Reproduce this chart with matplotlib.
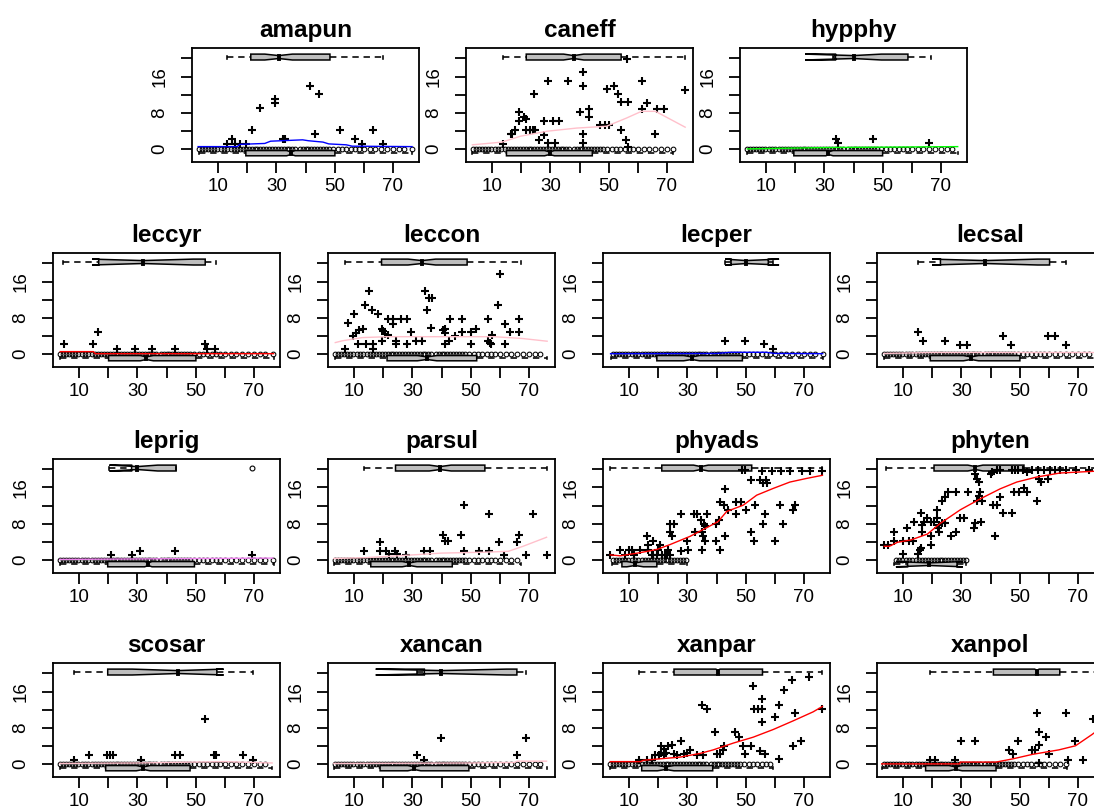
import matplotlib
matplotlib.use("Agg")
import matplotlib.pyplot as plt
from matplotlib.patches import Polygon

plt.rcParams['font.family'] = ['Liberation Sans', 'DejaVu Sans']

# ages of the sampled sites (x of the absence marks at y = 0)
site_ages = [3.5, 4.5, 5.5, 6.5, 7.5, 8.5, 9.5, 11, 12, 13, 14.5, 15.5, 16.5,
             17.5, 18.5, 19.5, 20.5, 21.5, 22.5, 23.5, 24.5, 25.5, 26.5, 27.5,
             28.5, 29.5, 30.5, 31.5, 32.5, 33.5, 34.5, 35.5, 36.5, 38, 39, 40,
             41, 42, 43, 44, 45, 46, 47, 48, 49.5, 51, 52.5, 54, 55.5, 57,
             58.5, 60, 62, 64, 66, 68, 70, 72, 74, 76.5]

# box stats: (whisker lo, q1, median, q3, whisker hi, notch lo, notch hi)
amapun_x = [13.0, 14.9, 15.8, 17.5, 19.5, 21.5, 24.2, 29.4, 29.4, 32.3, 33.0,
            41.4, 43.1, 44.5, 51.8, 57.0, 59.4, 63.3, 66.6]
amapun_y = [1.1, 2.2, 1.1, 1.1, 1.1, 4.1, 9.0, 11.1, 10.2, 2.2, 2.2, 13.9, 3.3,
            12.2, 4.1, 2.2, 1.1, 4.1, 1.1]
amapun_top = (13.0, 21.2, 30.8, 48.4, 66.6, 26.0, 35.5)
amapun_bot = (3.5, 19.5, 35.0, 50.1, 76.6, 33.5, 36.5)
amapun_fit_x = [3.1, 16.5, 17.5, 26, 28, 39, 41, 46, 48, 54, 56, 76.6]
amapun_fit_y = [0.5, 0.5, 1.0, 1.2, 1.7, 2.0, 1.8, 1.5, 1.1, 0.9, 0.6, 0.5]

caneff_x = [13.8, 16.3, 16.8, 17.7, 19.2, 19.1, 20.8, 21.5, 21.7, 23.0, 24.0,
            24.7, 24.2, 26.0, 27.7, 27.7, 29.1, 29.2, 30.8, 33.1, 31.6, 36.1,
            40.0, 41.1, 41.1, 41.1, 41.1, 43.1, 43.1, 47.0, 48.7, 50.2, 49.6,
            51.8, 53.2, 54.4, 56.7, 54.3, 56.1, 56.7, 56.4, 61.6, 61.6, 63.2,
            66.6, 69.2, 66.1, 76.3]
caneff_y = [1.1, 3.2, 3.3, 4.1, 8.1, 6.1, 7.0, 6.6, 4.1, 4.1, 4.1, 4.1, 12.2,
            2.0, 3.1, 6.1, 15.1, 1.3, 6.1, 6.1, 1.3, 15.1, 8.1, 17.1, 13.8, 3.3,
            1.3, 8.9, 7.0, 5.2, 5.2, 5.2, 13.2, 13.8, 12.2, 10.3, 10.3, 4.1,
            2.0, 0.5, 19.8, 15.1, 8.9, 10.2, 8.9, 8.9, 3.3, 13.0]
caneff_top = (13.6, 21.7, 38.0, 54.3, 76.3, 34.5, 41.5)
caneff_bot = (3.2, 14.9, 29.7, 44.4, 72.1, 28.0, 31.4)
caneff_fit_x = [3.2, 13.4, 19.7, 28.8, 39.0, 49.3, 56.1, 61.3, 66.1, 76.3]
caneff_fit_y = [0.9, 1.5, 2.8, 3.9, 4.6, 5.0, 6.8, 8.3, 8.3, 4.8]

hypphy_x = [34.0, 34.8, 46.8, 66.1]
hypphy_y = [2.2, 1.3, 2.2, 1.3]
hypphy_top = (33.0, 33.8, 40.0, 58.7, 66.5, 23.4, 49.6)
hypphy_bot = (3.5, 19.5, 31.4, 50.0, 75.8, 30.5, 33.0)
hypphy_fit_x = [3.5, 31.4, 75.8]
hypphy_fit_y = [0.0, 0.3, 0.5]

leccyr_x = [4.8, 14.8, 16.4, 22.9, 29.2, 35.0, 43.0, 53.3, 53.9, 56.7]
leccyr_y = [2.1, 2.1, 4.9, 1.0, 1.0, 1.0, 1.0, 2.1, 1.0, 1.0]
leccyr_top = (4.6, 16.7, 31.8, 53.3, 57.0, 14.4, 49.2)
leccyr_bot = (3.5, 20.1, 33.0, 50.1, 76.8, 31.0, 35.5)
leccyr_fit_x = [3.5, 14.9, 15.5, 76.8]
leccyr_fit_y = [0.5, 0.5, 0.05, 0.05]

leccon_x = [6.9, 8.0, 10.0, 9.6, 10.6, 11.5, 11.2, 13.1, 13.7, 13.9, 15.1,
            16.1, 16.6, 16.6, 18.2, 19.4, 20.0, 20.6, 21.5, 19.7, 21.5, 23.5,
            23.5, 24.3, 24.3, 26.2, 28.0, 28.2, 29.6, 31.4, 33.3, 34.5, 35.7,
            36.9, 35.1, 36.3, 40.6, 41.2, 41.2, 41.2, 43.0, 42.7, 44.5, 47.0,
            47.0, 50.1, 50.1, 51.9, 56.1, 56.1, 56.7, 57.0, 57.4, 59.4, 60.2,
            61.9, 61.9, 63.5, 66.8, 66.8]
leccon_y = [1.0, 6.9, 8.8, 3.9, 4.7, 5.3, 2.1, 5.6, 10.9, 2.1, 13.8, 9.8, 2.1,
            1.0, 8.9, 5.6, 5.1, 4.4, 4.2, 2.9, 7.7, 7.7, 6.7, 2.9, 2.1, 7.7,
            7.7, 2.1, 4.9, 2.9, 2.9, 13.8, 12.4, 12.4, 9.8, 5.8, 5.3, 5.6, 4.7,
            2.1, 7.7, 2.9, 3.9, 7.7, 4.9, 4.9, 2.1, 5.6, 7.7, 2.9, 2.5, 2.1,
            4.2, 10.9, 17.7, 6.7, 2.1, 4.9, 7.7, 4.9]
leccon_top = (6.9, 19.4, 33.3, 48.8, 67.2, 28.5, 38.0)
leccon_bot = (3.5, 21.3, 35.0, 52.1, 76.3, 31.7, 38.4)
leccon_fit_x = [3.5, 6, 12.7, 21.3, 39.6, 58, 67.8, 76.3]
leccon_fit_y = [2.5, 2.9, 3.6, 3.8, 3.8, 3.8, 3.4, 2.8]

lecper_x = [42.8, 49.9, 56.3, 59.3]
lecper_y = [2.9, 2.9, 2.1, 1.0]
lecper_top = (42.8, 45.0, 50.2, 57.8, 59.3, 43.0, 61.5)
lecper_bot = (3.6, 19.5, 31.5, 48.9, 76.5, 28.7, 34.2)
lecper_fit_x = [3.6, 40, 45, 57, 60, 76.5]
lecper_fit_y = [0.05, 0.1, 0.35, 0.35, 0.1, 0.05]

lecsal_x = [15.0, 16.8, 24.5, 29.4, 31.9, 44.4, 46.9, 59.8, 62.0, 66.0]
lecsal_y = [4.9, 2.9, 2.9, 2.0, 2.0, 4.0, 2.0, 4.0, 4.0, 2.0]
lecsal_top = (15.0, 22.8, 38.1, 60.3, 66.0, 19.9, 56.2)
lecsal_bot = (3.4, 19.3, 33.3, 50.1, 76.5, 30.7, 35.9)
lecsal_fit_x = [3.4, 20, 76.5]
lecsal_fit_y = [0.1, 0.3, 0.3]

leprig_x = [21.1, 28.0, 31.0, 43.0, 69.3]
leprig_y = [1.1, 1.1, 2.0, 2.0, 1.1]
leprig_top = (20.4, 28.0, 30.0, 43.3, 43.3, 20.4, 37.0)
leprig_out = [69.3]
leprig_bot = (3.3, 19.8, 33.8, 49.6, 77.0, 32.5, 35.0)
leprig_fit_x = [3.3, 76.5]
leprig_fit_y = [0.1, 0.4]

parsul_x = [13.2, 18.9, 18.9, 20.8, 22.1, 24.0, 24.6, 27.8, 34.1, 36.0, 40.5,
            41.1, 42.4, 46.8, 47.9, 47.9, 52.8, 56.4, 56.4, 59.9, 61.5, 65.9,
            66.5, 69.1, 71.6, 76.1]
parsul_y = [2.0, 4.0, 2.0, 2.0, 1.3, 2.0, 1.3, 1.1, 2.0, 2.0, 5.4, 4.1, 4.1,
            5.4, 12.1, 2.0, 2.0, 10.2, 2.0, 4.0, 1.1, 4.0, 5.4, 1.1, 10.2, 1.1]
parsul_top = (13.2, 24.2, 39.5, 54.9, 76.1, 35.8, 43.3)
parsul_bot = (3.0, 15.7, 29.0, 43.7, 67.2, 26.5, 31.6)
parsul_fit_x = [3, 14, 25, 40, 55, 63, 68, 76.1]
parsul_fit_y = [0.3, 0.5, 0.9, 1.5, 1.7, 1.9, 3.0, 5.0]

phyads_x = [3.5, 6.9, 10.1, 10.9, 13.8, 16.6, 8.6, 11.5, 17.8, 21.2, 23.1,
            16.1, 16.6, 18.1, 18.1, 19.5, 20.6, 20.0, 22.3, 23.5, 24.1, 24.7,
            24.1, 25.5, 24.1, 27.8, 27.8, 29.8, 30.1, 32.1, 33.2, 32.6, 34.6,
            34.9, 35.5, 34.9, 35.7, 36.1, 36.1, 36.6, 39.8, 41.0, 39.8, 41.2,
            41.2, 42.6, 42.9, 42.9, 44.1, 46.7, 48.3, 46.7, 50.1, 51.7, 51.7,
            53.2, 52.9, 55.0, 55.9, 57.0, 57.5, 56.6, 56.1, 60.1, 61.8, 62.9,
            66.3, 67.1, 48.6, 49.7, 55.8, 58.9, 62.0, 65.2, 69.5, 72.0, 76.4]
phyads_y = [1.1, 2.1, 2.1, 2.1, 2.1, 2.1, 1.1, 1.1, 1.1, 1.1, 1.1, 5.2, 3.2,
            4.1, 1.1, 1.1, 3.2, 2.1, 1.1, 2.1, 6.1, 5.2, 8.0, 8.0, 1.1, 10.1,
            2.0, 4.1, 2.1, 10.1, 10.1, 6.1, 8.9, 6.1, 5.2, 2.1, 8.0, 7.4, 4.1,
            10.1, 8.0, 8.9, 4.1, 2.1, 12.9, 12.1, 15.6, 5.2, 11.1, 12.9, 12.9,
            10.1, 11.1, 6.1, 17.6, 12.1, 4.1, 17.6, 16.9, 17.6, 16.9, 10.1, 8.0,
            4.1, 12.1, 8.0, 11.1, 12.1, 19.8, 19.8, 19.7, 19.7, 19.7, 19.7,
            19.7, 19.7, 19.7]
phyads_top = (3.5, 21.2, 34.6, 52.1, 76.4, 32.1, 37.2)
phyads_bot = (4.1, 7.5, 12.0, 19.5, 29.8, 9.2, 14.9)
phyads_fit_x = [3.5, 6.9, 13.8, 19.5, 24.1, 30.9, 36.6, 40.6, 43.5, 49.2,
                53.8, 59.5, 65.2, 70.9, 76.4]
phyads_fit_y = [1.1, 0.9, 1.6, 2.3, 3.4, 5.2, 7.1, 8.5, 10.7, 12.1, 14.3,
                15.8, 17.2, 18.0, 18.7]

phyten_x = [3.5, 4.9, 6.9, 6.9, 10.1, 11.3, 9.8, 12.0, 13.2, 13.8, 15.1, 15.8,
            16.0, 16.0, 16.3, 17.2, 16.6, 18.1, 19.4, 20.6, 19.4, 19.4, 21.5,
            21.7, 22.3, 22.0, 22.3, 23.4, 24.5, 23.4, 24.5, 25.3, 26.3, 28.0,
            28.3, 29.4, 31.0, 32.2, 34.2, 34.8, 35.3, 35.9, 34.8, 35.3, 35.9,
            36.3, 37.0, 36.7, 40.1, 41.0, 42.2, 41.6, 43.1, 44.4, 47.3, 48.1,
            49.9, 51.5, 52.4, 56.0, 56.7, 57.5, 59.8, 40.5, 42.2, 43.3, 47.3,
            48.4, 49.5, 51.0, 52.4, 54.4, 56.4, 58.3, 60.3, 62.0, 63.8, 66.0,
            69.4, 73.9]
phyten_y = [3.3, 3.3, 6.2, 4.1, 1.3, 7.1, 4.1, 4.1, 4.1, 8.3, 1.3, 2.2, 2.7,
            10.4, 7.6, 8.3, 6.2, 9.2, 8.4, 8.3, 5.3, 3.3, 11.1, 9.2, 7.7, 7.1,
            6.2, 8.1, 8.1, 13.1, 13.9, 15.1, 5.3, 6.2, 15.1, 9.2, 9.2, 15.1,
            7.1, 8.1, 13.1, 14.2, 19.0, 17.9, 17.2, 15.1, 13.1, 8.3, 19.0, 12.2,
            12.2, 5.3, 13.9, 10.3, 10.3, 15.1, 15.1, 15.9, 15.1, 13.1, 17.9,
            17.2, 17.9, 19.5, 19.9, 19.9, 19.9, 19.9, 19.9, 19.9, 19.5, 19.9,
            19.9, 19.9, 19.9, 19.9, 19.9, 19.9, 19.9, 19.9]
phyten_top = (4.1, 20.6, 34.8, 51.5, 76.0, 32.2, 37.4)
phyten_bot = (7.0, 11.5, 19.0, 28.5, 31.7, 7.5, 30.5)
phyten_fit_x = [3.5, 5.2, 8.1, 12.6, 18.3, 22.8, 29.7, 36.5, 43.3, 49.0,
                55.8, 63.8, 76.0]
phyten_fit_y = [3.0, 3.0, 3.9, 4.4, 5.7, 8.1, 11.1, 13.5, 15.7, 17.2, 18.3,
                19.2, 19.6]

scosar_x = [8.1, 13.4, 19.4, 20.5, 21.7, 31.2, 43.0, 44.6, 53.1, 56.4, 57.0,
            66.2, 69.7]
scosar_y = [0.9, 2.0, 2.0, 2.0, 2.0, 0.9, 2.0, 2.0, 10.0, 2.0, 2.0, 2.0, 0.9]
scosar_top = (8.1, 19.8, 43.9, 57.3, 69.7, 28.2, 59.6)
scosar_bot = (3.3, 19.1, 32.0, 48.1, 76.3, 29.6, 34.4)
scosar_fit_x = [3.3, 30, 50, 60, 70, 76.3]
scosar_fit_y = [0.1, 0.2, 0.4, 0.5, 0.3, 0.2]

xancan_x = [31.6, 34.1, 39.9, 65.9, 69.1]
xancan_y = [2.0, 0.9, 5.8, 2.0, 5.8]
xancan_top = (31.6, 34.1, 39.9, 65.9, 69.1, 17.4, 62.4)
xancan_bot = (3.0, 18.9, 30.6, 49.4, 76.1, 28.4, 32.9)
xancan_fit_x = [3.0, 30, 50, 60, 65, 66, 76.1]
xancan_fit_y = [0.1, 0.15, 0.2, 0.3, 0.3, 0.6, 0.6]

xanpar_x = [13.5, 16.1, 17.8, 18.9, 20.1, 21.0, 22.0, 23.5, 21.0, 22.0, 22.7,
            24.6, 25.5, 26.3, 27.8, 29.0, 29.8, 30.9, 33.2, 35.5, 34.9, 36.6,
            39.5, 40.1, 41.2, 42.7, 42.1, 46.3, 47.8, 49.0, 49.8, 51.7, 52.6,
            52.9, 54.3, 55.8, 55.8, 55.8, 54.9, 56.6, 60.1, 61.5, 61.5, 63.1,
            66.0, 66.3, 66.9, 69.2, 71.8, 76.4]
xanpar_y = [0.9, 0.9, 0.9, 1.9, 1.9, 4.0, 3.3, 4.0, 2.3, 2.1, 2.5, 4.2, 2.1,
            1.9, 5.1, 2.1, 2.3, 3.1, 1.9, 1.9, 13.0, 12.2, 7.1, 2.1, 2.1, 4.0,
            3.1, 7.1, 5.9, 4.0, 2.1, 4.0, 17.2, 12.2, 12.2, 12.2, 14.3, 9.3,
            2.8, 2.1, 10.3, 1.0, 13.0, 16.4, 18.5, 4.0, 11.2, 5.0, 19.3, 12.2]
xanpar_top = (13.5, 25.4, 40.5, 55.8, 76.4, 39.8, 41.2)
xanpar_bot = (3.5, 14.3, 22.5, 38.7, 59.5, 19.7, 25.4)
xanpar_fit_x = [3.5, 13.8, 14.9, 27.5, 34.3, 38.9, 45.8, 52.6, 59.5, 66.3,
                73.2, 76.4]
xanpar_fit_y = [0.5, 0.5, 0.8, 1.5, 2.3, 3.1, 4.6, 5.9, 7.6, 9.5, 11.5, 12.7]

xanpol_x = [19.1, 20.8, 27.7, 29.7, 34.8, 46.4, 47.6, 49.3, 54.4, 55.3, 56.1,
            56.7, 56.7, 56.7, 59.2, 60.1, 66.0, 66.7, 69.2, 71.7, 75.1]
xanpol_y = [0.9, 0.9, 0.9, 5.0, 5.0, 3.1, 2.1, 5.0, 3.1, 3.1, 11.2, 7.1, 4.2,
            0.3, 5.9, 2.1, 11.2, 0.9, 5.0, 0.9, 9.9]
xanpol_top = (19.1, 41.0, 56.0, 63.8, 78.0, 55.2, 56.7)
xanpol_bot = (2.6, 17.7, 28.0, 41.9, 66.4, 25.7, 30.3)
xanpol_fit_x = [2.6, 29.4, 29.6, 41.9, 47.6, 54.4, 63.5, 69.2, 74.9, 78.0]
xanpol_fit_y = [0.0, 0.0, 0.4, 0.4, 1.1, 2.1, 3.1, 4.0, 6.5, 8.0]

panels = [
    ("amapun", amapun_x, amapun_y, amapun_top, amapun_bot, amapun_fit_x, amapun_fit_y, "blue", []),
    ("caneff", caneff_x, caneff_y, caneff_top, caneff_bot, caneff_fit_x, caneff_fit_y, "pink", []),
    ("hypphy", hypphy_x, hypphy_y, hypphy_top, hypphy_bot, hypphy_fit_x, hypphy_fit_y, "#00FF00", []),
    ("leccyr", leccyr_x, leccyr_y, leccyr_top, leccyr_bot, leccyr_fit_x, leccyr_fit_y, "red", []),
    ("leccon", leccon_x, leccon_y, leccon_top, leccon_bot, leccon_fit_x, leccon_fit_y, "pink", []),
    ("lecper", lecper_x, lecper_y, lecper_top, lecper_bot, lecper_fit_x, lecper_fit_y, "blue", []),
    ("lecsal", lecsal_x, lecsal_y, lecsal_top, lecsal_bot, lecsal_fit_x, lecsal_fit_y, "pink", []),
    ("leprig", leprig_x, leprig_y, leprig_top, leprig_bot, leprig_fit_x, leprig_fit_y, "violet", leprig_out),
    ("parsul", parsul_x, parsul_y, parsul_top, parsul_bot, parsul_fit_x, parsul_fit_y, "pink", []),
    ("phyads", phyads_x, phyads_y, phyads_top, phyads_bot, phyads_fit_x, phyads_fit_y, "red", []),
    ("phyten", phyten_x, phyten_y, phyten_top, phyten_bot, phyten_fit_x, phyten_fit_y, "red", []),
    ("scosar", scosar_x, scosar_y, scosar_top, scosar_bot, scosar_fit_x, scosar_fit_y, "pink", []),
    ("xancan", xancan_x, xancan_y, xancan_top, xancan_bot, xancan_fit_x, xancan_fit_y, "pink", []),
    ("xanpar", xanpar_x, xanpar_y, xanpar_top, xanpar_bot, xanpar_fit_x, xanpar_fit_y, "red", []),
    ("xanpol", xanpol_x, xanpol_y, xanpol_top, xanpol_bot, xanpol_fit_x, xanpol_fit_y, "red", []),
]

W, H = 1094, 810
row_tops = [48, 253, 459, 663]
first_row_lefts = [192, 466, 740]
other_lefts = [53, 328, 603, 877]
pw, ph = 227, 114


def draw_box(ax, stats, yc, hw):
    # R style notched horizontal boxplot
    lo, q1, med, q3, hi, c1, c2 = stats
    xs = [q1, q1, c1, med, c2, q3, q3, c2, med, c1]
    ys = [yc - hw, yc + hw, yc + hw, yc + hw * 0.5, yc + hw,
          yc + hw, yc - hw, yc - hw, yc - hw * 0.5, yc - hw]
    ax.add_patch(Polygon(list(zip(xs, ys)), closed=True, fc="#BEBEBE",
                         ec="black", lw=1.1, zorder=2))
    ax.plot([med, med], [yc - hw * 0.5, yc + hw * 0.5], color="black",
            lw=2.8, zorder=3)
    for a, b in ((lo, q1), (q3, hi)):
        ax.plot([a, b], [yc, yc], color="black", lw=1.15,
                ls=(0, (4, 3)), zorder=2)
    for c in (lo, hi):
        ax.plot([c, c], [yc - hw * 0.5, yc + hw * 0.5], color="black",
                lw=1.15, zorder=2)


fig = plt.figure(figsize=(W / 100, H / 100), dpi=100)

positions = []
for left in first_row_lefts:
    positions.append((left, row_tops[0]))
for r in range(1, 4):
    for left in other_lefts:
        positions.append((left, row_tops[r]))

for (name, px, py, top, bot, fx, fy, col, outl), (left, top_px) in zip(panels, positions):
    ax = fig.add_axes([left / W, 1 - (top_px + ph) / H, pw / W, ph / H])
    ax.set_xlim(1.0, 79.0)
    ax.set_ylim(-2.9, 22.3)

    zeros = [a for a in site_ages if bot[0] <= a <= bot[4]]
    ax.plot(zeros, [0] * len(zeros), ls="none", marker="o", ms=3.4,
            mfc="none", mec="black", mew=0.75, zorder=2)

    draw_box(ax, top, 20.3, 0.65)
    draw_box(ax, bot, -0.95, 0.58)
    if outl:
        ax.plot(outl, [20.3] * len(outl), ls="none", marker="o", ms=3.5,
                mfc="none", mec="black", mew=0.8)

    ax.plot(px, py, ls="none", marker="+", ms=5.5, mew=1.5, color="black",
            zorder=4)
    ax.plot(fx, fy, color=col, lw=1.0, zorder=5)

    ax.set_title(name, fontsize=17.5, fontweight="bold", pad=8)
    ax.set_xticks([10, 20, 30, 40, 50, 60, 70])
    ax.set_xticklabels(["10", "", "30", "", "50", "", "70"])
    ax.set_yticks([0, 4, 8, 12, 16, 20])
    ax.set_yticklabels(["0", "", "8", "", "16", ""])
    ax.tick_params(direction="out", length=8, width=1.3, labelsize=13.5)
    ax.tick_params(axis="x", pad=3.5)
    ax.tick_params(axis="y", pad=9, labelrotation=90)
    for lbl in ax.get_yticklabels():
        lbl.set_va("center")
    for s in ax.spines.values():
        s.set_linewidth(1.3)

fig.savefig("out.png", dpi=100)
